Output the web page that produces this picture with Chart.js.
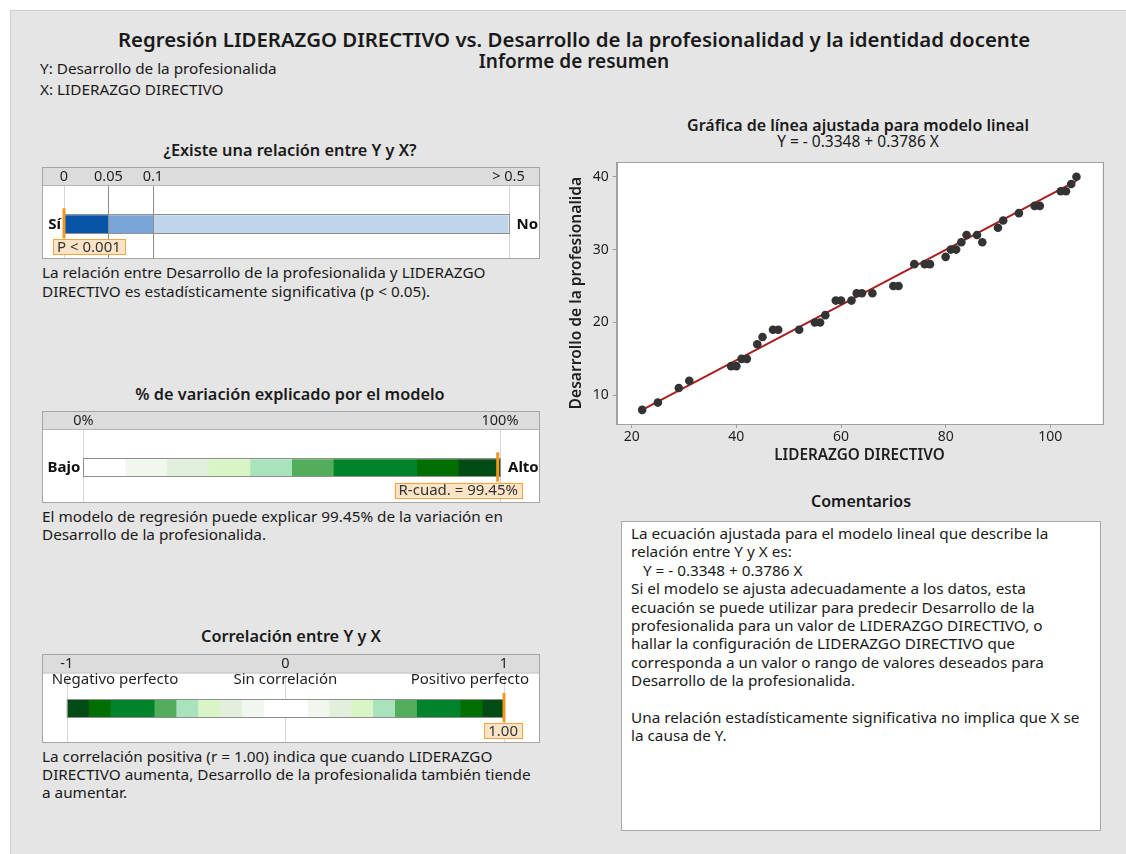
<!DOCTYPE html>
<html>
<head>
<meta charset="utf-8">
<script src="https://cdn.jsdelivr.net/npm/chart.js@4.4.1/dist/chart.umd.min.js"></script>
<style>
  html, body { margin: 0; padding: 0; background: #fff; }
  body { width: 1126px; height: 854px; position: relative; overflow: hidden;
         font-family: "Noto Sans", sans-serif; color: #1a1a1a; }
  #panel { position: absolute; left: 10px; top: 10px; width: 1116px; height: 844px;
           background: #e5e5e5; border-left: 1px solid #d0d0d0; border-top: 1px solid #d0d0d0; }
  .t { position: absolute; white-space: pre; line-height: 1; }
  .wrap { position: absolute; }
  #comments { position: absolute; left: 621px; top: 521px; width: 480px; height: 310px;
              background: #fff; border: 1px solid #a9a9a9; box-sizing: border-box; }
</style>
</head>
<body>
<div id="panel"></div>
<div class="wrap" id="g1" style="left:42px;top:167px;width:498px;height:92px"><canvas id="c1"></canvas></div>
<div class="wrap" id="g2" style="left:42px;top:411px;width:498px;height:92px"><canvas id="c2"></canvas></div>
<div class="wrap" id="g3" style="left:42px;top:654px;width:498px;height:89px"><canvas id="c3"></canvas></div>
<div class="wrap" style="left:556px;top:155px;width:566px;height:310px"><canvas id="fit"></canvas></div>
<div id="comments"></div>

<script>
// scatter data (LIDERAZGO DIRECTIVO vs Desarrollo de la profesionalida)
const liderazgo  = [22, 25, 29, 31, 39, 40, 41, 42, 44, 45, 47, 48, 52, 55, 56, 57, 59, 60, 62, 63, 64, 66,
                    70, 71, 74, 76, 77, 80, 81, 82, 83, 84, 86, 87, 90, 91, 94, 97, 98, 102, 103, 104, 105];
const desarrollo = [8, 9, 11, 12, 14, 14, 15, 15, 17, 18, 19, 19, 19, 20, 20, 21, 23, 23, 23, 24, 24, 24,
                    25, 25, 28, 28, 28, 29, 30, 30, 31, 32, 32, 31, 33, 34, 35, 36, 36, 38, 38, 39, 40];
const fitX = [22, 105];
const fitY = [7.99, 39.42];
const xTicks = [20, 40, 60, 80, 100];
const yTicks = [10, 20, 30, 40];

// p-value gauge
const pBreaks = [0, 0.05, 0.1, 0.5];
const pTickLabels = ['0', '0.05', '0.1', '> 0.5'];
const pColors = ['#0654a6', '#79a5d8', '#c0d4ec'];
const pValue = 0;            // P < 0.001

// R-squared gauge
const r2Breaks = [0, 10, 20, 30, 40, 50, 60, 80, 90, 100];
const r2TickLabels = ['0%', '100%'];
const r2Colors = ['#ffffff', '#f1f7ef', '#e2efdc', '#daf5c5', '#a8e3bd', '#53ae5b', '#00832a', '#006e00', '#004c14'];
const rSq = 99.45;

// correlation gauge
const corrBreaks = [-1, -0.9, -0.8, -0.6, -0.5, -0.4, -0.3, -0.2, -0.1, 0.1, 0.2, 0.3, 0.4, 0.5, 0.6, 0.8, 0.9, 1];
const corrTickLabels = ['-1', '0', '1'];
const corrColors = ['#004c14', '#006e00', '#00832a', '#53ae5b', '#a8e3bd', '#daf5c5', '#e2efdc', '#f1f7ef', '#ffffff',
                    '#f1f7ef', '#e2efdc', '#daf5c5', '#a8e3bd', '#53ae5b', '#00832a', '#006e00', '#004c14'];
const corrR = 1.00;

Chart.defaults.font.family = '"Noto Sans", sans-serif';
Chart.defaults.color = '#1f1f1f';

const BODY = 15.3;

function txt(s, x, y, size, weight, align) {
  const d = document.createElement('div');
  d.className = 't';
  d.textContent = s;
  d.style.left = x + 'px';
  d.style.top = y + 'px';
  d.style.fontSize = size + 'px';
  d.style.fontWeight = weight || 400;
  const tx = align === 'center' ? '-50%' : align === 'right' ? '-100%' : '0';
  d.style.transform = 'translate(' + tx + ',-50%)';
  document.body.appendChild(d);
}

txt('Regresión LIDERAZGO DIRECTIVO vs. Desarrollo de la profesionalidad y la identidad docente', 574, 39, 20.4, 600, 'center');
txt('Informe de resumen', 574, 61, 19, 600, 'center');
txt('Y: Desarrollo de la profesionalida', 40, 69, BODY);
txt('X: LIDERAZGO DIRECTIVO', 40, 90, BODY);

txt('¿Existe una relación entre Y y X?', 290, 150, 16.3, 600, 'center');
txt('La relación entre Desarrollo de la profesionalida y LIDERAZGO', 42, 273, BODY);
txt('DIRECTIVO es estadísticamente significativa (p < 0.05).', 42, 292, BODY);

txt('% de variación explicado por el modelo', 290, 394, 16.3, 600, 'center');
txt('El modelo de regresión puede explicar 99.45% de la variación en', 42, 517, BODY);
txt('Desarrollo de la profesionalida.', 42, 535, BODY);

txt('Correlación entre Y y X', 291, 636, 16.3, 600, 'center');
txt('La correlación positiva (r = 1.00) indica que cuando LIDERAZGO', 42, 757, BODY);
txt('DIRECTIVO aumenta, Desarrollo de la profesionalida también tiende', 42, 775, BODY);
txt('a aumentar.', 42, 793, BODY);

txt('Gráfica de línea ajustada para modelo lineal', 858, 125, 16, 600, 'center');
txt('Y = - 0.3348 + 0.3786 X', 858, 142, 15.5, 400, 'center');
txt('Comentarios', 861, 501, 16, 600, 'center');

const commentLines = [
  'La ecuación ajustada para el modelo lineal que describe la',
  'relación entre Y y X es:',
  '   Y = - 0.3348 + 0.3786 X',
  'Si el modelo se ajusta adecuadamente a los datos, esta',
  'ecuación se puede utilizar para predecir Desarrollo de la',
  'profesionalida para un valor de LIDERAZGO DIRECTIVO, o',
  'hallar la configuración de LIDERAZGO DIRECTIVO que',
  'corresponda a un valor o rango de valores deseados para',
  'Desarrollo de la profesionalida.',
  '',
  'Una relación estadísticamente significativa no implica que X se',
  'la causa de Y.'
];
commentLines.forEach((l, i) => txt(l, 631, 534 + i * 18.4, BODY));

// ---------- gauges ----------
function gauge(canvasId, o) {
  const map = o.map || (v => v);
  const datasets = o.breaks.slice(0, -1).map((b, i) => ({
    data: [[map(b), map(o.breaks[i + 1])]],
    backgroundColor: o.colors[i],
    borderWidth: 0,
    barPercentage: 1,
    categoryPercentage: 1,
    grouped: false
  }));

  const deco = {
    id: 'deco',
    beforeDraw(chart) {
      const ctx = chart.ctx, W = chart.width, H = chart.height;
      const xs = chart.scales.x, ca = chart.chartArea;
      ctx.save();
      ctx.fillStyle = '#fff';
      ctx.fillRect(0, 0, W, H);
      ctx.fillStyle = '#dcdcdc';
      ctx.fillRect(0, 0, W, o.header);
      ctx.strokeStyle = '#b5b5b5';
      ctx.lineWidth = 1;
      ctx.beginPath();
      ctx.moveTo(0, o.header + 0.5); ctx.lineTo(W, o.header + 0.5);
      ctx.stroke();
      // grid lines at ticks
      ctx.strokeStyle = '#d6d6d6';
      o.tickValues.forEach(v => {
        const px = Math.round(xs.getPixelForValue(map(v))) + 0.5;
        ctx.beginPath();
        ctx.moveTo(px, o.header + 1); ctx.lineTo(px, H);
        ctx.stroke();
      });
      // tick labels
      ctx.fillStyle = '#1f1f1f';
      ctx.font = '14.5px "Noto Sans"';
      ctx.textAlign = 'center';
      ctx.textBaseline = 'middle';
      o.tickValues.forEach((v, i) => {
        ctx.fillText(o.tickLabels[i], xs.getPixelForValue(map(v)), o.header / 2 + 1);
      });
      ctx.font = '15px "Noto Sans"';
      (o.rowLabels || []).forEach(r => {
        ctx.textAlign = r.align;
        const px = r.value !== undefined ? xs.getPixelForValue(map(r.value)) : (r.align === 'left' ? ca.left + r.dx : ca.right + r.dx);
        ctx.fillText(r.text, px, r.y);
      });
      ctx.restore();
    },
    afterDatasetsDraw(chart) {
      const ctx = chart.ctx, W = chart.width, H = chart.height;
      const xs = chart.scales.x, ca = chart.chartArea;
      const x0 = xs.getPixelForValue(map(o.breaks[0]));
      const x1 = xs.getPixelForValue(map(o.breaks[o.breaks.length - 1]));
      ctx.save();
      ctx.strokeStyle = '#8e8e8e';
      ctx.lineWidth = 1;
      if (o.separators) {
        o.breaks.slice(1, -1).forEach(b => {
          const px = Math.round(xs.getPixelForValue(map(b))) + 0.5;
          ctx.beginPath(); ctx.moveTo(px, o.header + 1); ctx.lineTo(px, H); ctx.stroke();
        });
      }
      ctx.strokeRect(Math.round(x0) + 0.5, Math.round(ca.top) - 0.5, Math.round(x1 - x0), Math.round(ca.bottom - ca.top) + 1);
      // side labels
      ctx.fillStyle = '#111';
      ctx.font = 'bold 15px "Noto Sans"';
      ctx.textBaseline = 'middle';
      const cy = (ca.top + ca.bottom) / 2;
      if (o.leftLabel) { ctx.textAlign = 'right'; ctx.fillText(o.leftLabel, ca.left - 3, cy); }
      if (o.rightLabel) { ctx.textAlign = 'left'; ctx.fillText(o.rightLabel, ca.right + 8, cy); }
      // marker
      const mx = xs.getPixelForValue(map(o.value));
      ctx.fillStyle = '#f5961e';
      ctx.fillRect(mx - 1.5, ca.top - 7, 3, ca.bottom - ca.top + 12);
      // value box
      ctx.font = '15px "Noto Sans"';
      const w = ctx.measureText(o.valueText).width + 8, h = 15;
      const lx = Math.max(11, Math.min(mx - w / 2, W - 18 - w));
      const ly = ca.bottom + 6;
      ctx.fillStyle = '#fbe4c6';
      ctx.fillRect(lx, ly, w, h);
      ctx.strokeStyle = '#f3a640';
      ctx.strokeRect(Math.round(lx) + 0.5, Math.round(ly) + 0.5, Math.round(w), h);
      ctx.fillStyle = '#333';
      ctx.textAlign = 'left';
      ctx.fillText(o.valueText, lx + 4, ly + h / 2 + 0.5);
      // outer box
      ctx.strokeStyle = '#a5a5a5';
      ctx.strokeRect(0.5, 0.5, W - 1, H - 1);
      ctx.restore();
    }
  };

  new Chart(document.getElementById(canvasId), {
    type: 'bar',
    data: { labels: [''], datasets },
    options: {
      indexAxis: 'y',
      responsive: true,
      maintainAspectRatio: false,
      animation: false,
      layout: { padding: o.pad },
      scales: {
        x: { type: 'linear', min: map(o.breaks[0]), max: map(o.breaks[o.breaks.length - 1]), display: false },
        y: { display: false }
      },
      plugins: { legend: { display: false }, tooltip: { enabled: false } }
    },
    plugins: [deco]
  });
}

// the p gauge uses a stretched scale: 0 .. 0.05 .. 0.1 .. 0.5
const pStops = [0, 0.1, 0.2, 1];
function pMap(p) {
  for (let i = 1; i < pBreaks.length; i++) {
    if (p <= pBreaks[i]) {
      const f = (p - pBreaks[i - 1]) / (pBreaks[i] - pBreaks[i - 1]);
      return pStops[i - 1] + f * (pStops[i] - pStops[i - 1]);
    }
  }
  return 1;
}

gauge('c1', {
  breaks: pBreaks, colors: pColors, map: pMap,
  tickValues: pBreaks, tickLabels: pTickLabels,
  header: 18, pad: { left: 22, right: 31.5, top: 48.3, bottom: 25.7 },
  separators: true, leftLabel: 'Sí', rightLabel: 'No',
  value: pValue, valueText: 'P < 0.001'
});

gauge('c2', {
  breaks: r2Breaks, colors: r2Colors,
  tickValues: [0, 100], tickLabels: r2TickLabels,
  header: 18, pad: { left: 41.3, right: 40, top: 48.3, bottom: 26.3 },
  leftLabel: 'Bajo', rightLabel: 'Alto',
  value: rSq, valueText: 'R-cuad. = ' + rSq.toFixed(2) + '%'
});

gauge('c3', {
  breaks: corrBreaks, colors: corrColors,
  tickValues: [-1, 0, 1], tickLabels: corrTickLabels,
  header: 18.5, pad: { left: 24.7, right: 36, top: 46, bottom: 25.7 },
  rowLabels: [
    { text: 'Negativo perfecto', align: 'left', dx: -15, y: 26 },
    { text: 'Sin correlación', align: 'center', value: 0, y: 26 },
    { text: 'Positivo perfecto', align: 'right', dx: 25, y: 26 }
  ],
  value: corrR, valueText: corrR.toFixed(2)
});

// ---------- fitted line plot ----------
const plotFrame = {
  id: 'plotFrame',
  beforeDraw(chart) {
    const { ctx, chartArea: a } = chart;
    ctx.save();
    ctx.fillStyle = '#fff';
    ctx.fillRect(a.left, a.top, a.right - a.left, a.bottom - a.top);
    ctx.restore();
  },
  afterDraw(chart) {
    const { ctx, chartArea: a } = chart;
    ctx.save();
    ctx.strokeStyle = '#a0a0a0';
    ctx.lineWidth = 1;
    ctx.strokeRect(Math.round(a.left) + 0.5, Math.round(a.top) + 0.5, Math.round(a.right - a.left), Math.round(a.bottom - a.top));
    ctx.restore();
  }
};

new Chart(document.getElementById('fit'), {
  type: 'scatter',
  data: {
    datasets: [
      { type: 'line', data: fitX.map((x, i) => ({ x, y: fitY[i] })), borderColor: '#a81f1f', borderWidth: 2,
        pointRadius: 0, order: 1 },
      { data: liderazgo.map((x, i) => ({ x, y: desarrollo[i] })), backgroundColor: '#333333', borderWidth: 0,
        pointRadius: 4.3, order: 0 }
    ]
  },
  options: {
    responsive: true,
    maintainAspectRatio: false,
    animation: false,
    layout: { padding: { top: 7.3, right: 19.7, left: 0, bottom: 0 } },
    scales: {
      x: {
        type: 'linear', min: 17.13, max: 109.94,
        afterBuildTicks: s => { s.ticks = xTicks.map(v => ({ value: v })); },
        afterFit: s => { s.height = 41; s.paddingLeft = 0; s.paddingRight = 0; },
        ticks: { font: { size: 14 }, padding: 1, maxRotation: 0, autoSkip: false },
        grid: { drawOnChartArea: false, tickLength: 4, color: '#a0a0a0' },
        border: { color: '#a0a0a0' },
        title: { display: true, text: 'LIDERAZGO DIRECTIVO', font: { size: 15.3, weight: '600' }, padding: { top: 0, bottom: 0 } }
      },
      y: {
        type: 'linear', min: 6.06, max: 41.98,
        afterBuildTicks: s => { s.ticks = yTicks.map(v => ({ value: v })); },
        afterFit: s => { s.width = 60.7; s.paddingTop = 0; s.paddingBottom = 0; },
        ticks: { font: { size: 14 }, padding: 4, autoSkip: false },
        grid: { drawOnChartArea: false, tickLength: 4, color: '#a0a0a0' },
        border: { color: '#a0a0a0' },
        title: { display: true, text: 'Desarrollo de la profesionalida', font: { size: 15.6, weight: '600' }, padding: { top: 11, bottom: 0 } }
      }
    },
    plugins: { legend: { display: false }, tooltip: { enabled: false } }
  },
  plugins: [plotFrame]
});
</script>
</body>
</html>
